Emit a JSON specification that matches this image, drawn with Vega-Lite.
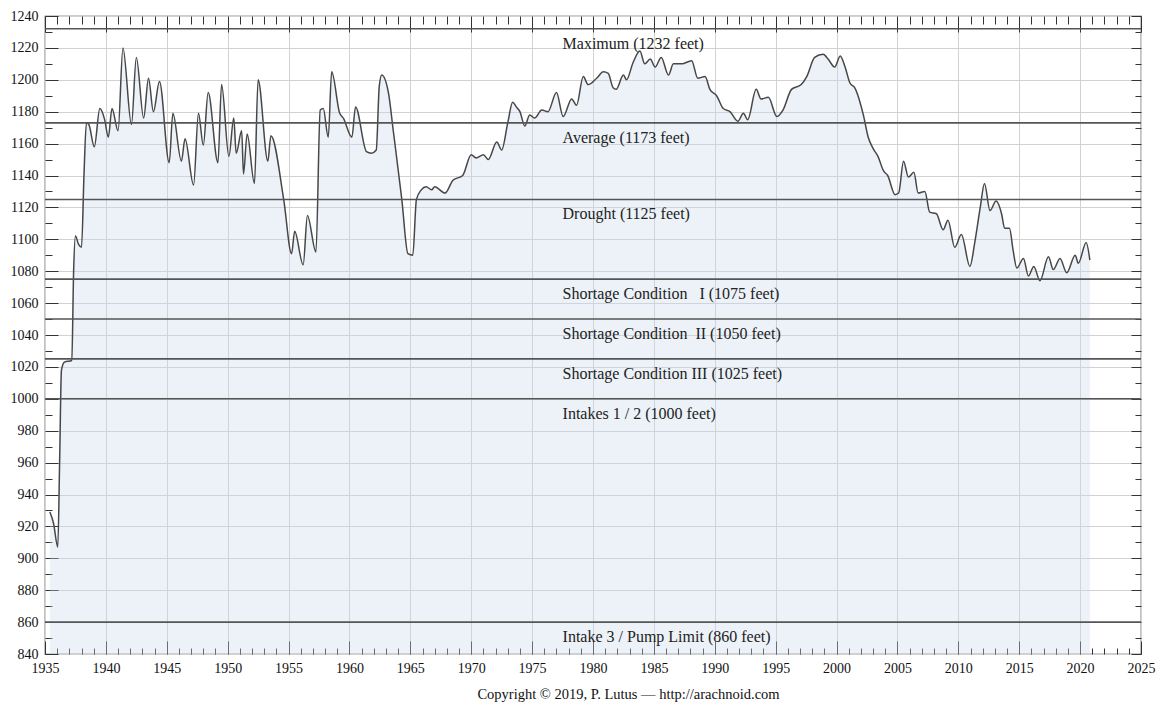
{
  "$schema": "https://vega.github.io/schema/vega-lite/v6.json",
  "width": 1096,
  "height": 638,
  "autosize": {"type": "none"},
  "padding": {"left": 45, "top": 16, "right": 18, "bottom": 54},
  "background": "white",
  "config": {
    "view": {"stroke": "#333333", "strokeWidth": 1.2},
    "font": "Liberation Serif",
    "axis": {"labelFont": "Liberation Serif", "titleFont": "Liberation Serif", "domain": false, "tickColor": "#333333", "tickWidth": 1, "labelColor": "#111111"}
  },
  "datasets": {
    "lake": [
      {"year": 1935.4, "level": 929}, {"year": 1935.7, "level": 922}, {"year": 1936.05, "level": 907},
      {"year": 1936.2, "level": 960}, {"year": 1936.35, "level": 1018}, {"year": 1936.6, "level": 1023},
      {"year": 1937.2, "level": 1024}, {"year": 1937.35, "level": 1080}, {"year": 1937.5, "level": 1102},
      {"year": 1937.75, "level": 1097}, {"year": 1938.0, "level": 1095}, {"year": 1938.2, "level": 1140},
      {"year": 1938.4, "level": 1173}, {"year": 1938.6, "level": 1172}, {"year": 1939.05, "level": 1158},
      {"year": 1939.5, "level": 1182}, {"year": 1939.9, "level": 1175}, {"year": 1940.2, "level": 1164},
      {"year": 1940.5, "level": 1182}, {"year": 1941.0, "level": 1168}, {"year": 1941.4, "level": 1220},
      {"year": 1942.1, "level": 1172}, {"year": 1942.5, "level": 1214}, {"year": 1943.1, "level": 1176},
      {"year": 1943.5, "level": 1201}, {"year": 1943.9, "level": 1180}, {"year": 1944.4, "level": 1199},
      {"year": 1945.2, "level": 1148}, {"year": 1945.5, "level": 1179}, {"year": 1946.2, "level": 1149},
      {"year": 1946.5, "level": 1163}, {"year": 1947.2, "level": 1134}, {"year": 1947.6, "level": 1179},
      {"year": 1948.0, "level": 1159}, {"year": 1948.4, "level": 1192}, {"year": 1949.2, "level": 1148},
      {"year": 1949.5, "level": 1197}, {"year": 1950.1, "level": 1152}, {"year": 1950.5, "level": 1176},
      {"year": 1950.7, "level": 1154}, {"year": 1951.15, "level": 1168}, {"year": 1951.3, "level": 1141},
      {"year": 1951.6, "level": 1166}, {"year": 1952.2, "level": 1135}, {"year": 1952.5, "level": 1200},
      {"year": 1953.3, "level": 1149}, {"year": 1953.55, "level": 1165}, {"year": 1954.6, "level": 1125},
      {"year": 1955.25, "level": 1091}, {"year": 1955.5, "level": 1105}, {"year": 1956.2, "level": 1084},
      {"year": 1956.55, "level": 1115}, {"year": 1957.25, "level": 1092}, {"year": 1957.6, "level": 1181},
      {"year": 1957.85, "level": 1182}, {"year": 1958.26, "level": 1164}, {"year": 1958.54, "level": 1205},
      {"year": 1959.2, "level": 1179}, {"year": 1959.5, "level": 1176}, {"year": 1960.2, "level": 1164},
      {"year": 1960.5, "level": 1183}, {"year": 1961.4, "level": 1155}, {"year": 1961.8, "level": 1154},
      {"year": 1962.2, "level": 1156}, {"year": 1962.45, "level": 1196}, {"year": 1962.65, "level": 1203},
      {"year": 1963.2, "level": 1192}, {"year": 1963.6, "level": 1168}, {"year": 1964.3, "level": 1125},
      {"year": 1964.8, "level": 1091}, {"year": 1965.2, "level": 1090}, {"year": 1965.5, "level": 1125},
      {"year": 1965.9, "level": 1131}, {"year": 1966.3, "level": 1133}, {"year": 1966.75, "level": 1131},
      {"year": 1967.0, "level": 1133}, {"year": 1967.85, "level": 1129}, {"year": 1968.5, "level": 1137},
      {"year": 1969.3, "level": 1140}, {"year": 1970.0, "level": 1153}, {"year": 1970.4, "level": 1151},
      {"year": 1971.0, "level": 1153}, {"year": 1971.4, "level": 1150}, {"year": 1972.1, "level": 1161},
      {"year": 1972.5, "level": 1156}, {"year": 1973.0, "level": 1173}, {"year": 1973.4, "level": 1186},
      {"year": 1973.7, "level": 1183}, {"year": 1974.0, "level": 1180}, {"year": 1974.4, "level": 1171},
      {"year": 1974.8, "level": 1178}, {"year": 1975.2, "level": 1176}, {"year": 1975.8, "level": 1181},
      {"year": 1976.3, "level": 1180}, {"year": 1977.0, "level": 1192}, {"year": 1977.55, "level": 1177},
      {"year": 1978.25, "level": 1188}, {"year": 1978.65, "level": 1184}, {"year": 1979.2, "level": 1202},
      {"year": 1979.6, "level": 1197}, {"year": 1980.3, "level": 1201}, {"year": 1980.85, "level": 1205},
      {"year": 1981.25, "level": 1204}, {"year": 1981.65, "level": 1195}, {"year": 1981.9, "level": 1194},
      {"year": 1982.5, "level": 1203}, {"year": 1982.75, "level": 1200}, {"year": 1983.3, "level": 1211},
      {"year": 1983.85, "level": 1218}, {"year": 1984.25, "level": 1210}, {"year": 1984.7, "level": 1213},
      {"year": 1985.1, "level": 1208}, {"year": 1985.6, "level": 1214}, {"year": 1986.2, "level": 1203},
      {"year": 1986.6, "level": 1210}, {"year": 1987.3, "level": 1210}, {"year": 1988.1, "level": 1212},
      {"year": 1988.6, "level": 1201}, {"year": 1989.2, "level": 1202}, {"year": 1989.6, "level": 1194},
      {"year": 1990.15, "level": 1190}, {"year": 1990.7, "level": 1182}, {"year": 1991.25, "level": 1180},
      {"year": 1991.9, "level": 1174}, {"year": 1992.35, "level": 1179}, {"year": 1992.7, "level": 1175},
      {"year": 1993.4, "level": 1194}, {"year": 1993.8, "level": 1188}, {"year": 1994.4, "level": 1189},
      {"year": 1995.1, "level": 1177}, {"year": 1995.6, "level": 1181}, {"year": 1996.3, "level": 1194},
      {"year": 1997.1, "level": 1197}, {"year": 1997.55, "level": 1202}, {"year": 1998.2, "level": 1214},
      {"year": 1998.9, "level": 1216}, {"year": 1999.3, "level": 1213}, {"year": 1999.85, "level": 1208},
      {"year": 2000.3, "level": 1215}, {"year": 2000.7, "level": 1208}, {"year": 2001.1, "level": 1198},
      {"year": 2001.5, "level": 1195}, {"year": 2002.2, "level": 1178}, {"year": 2002.6, "level": 1164},
      {"year": 2003.0, "level": 1157}, {"year": 2003.4, "level": 1152}, {"year": 2003.85, "level": 1143},
      {"year": 2004.2, "level": 1140}, {"year": 2004.8, "level": 1128}, {"year": 2005.1, "level": 1129},
      {"year": 2005.5, "level": 1149}, {"year": 2005.9, "level": 1139}, {"year": 2006.35, "level": 1142},
      {"year": 2006.7, "level": 1129}, {"year": 2007.25, "level": 1130}, {"year": 2007.65, "level": 1117},
      {"year": 2008.2, "level": 1116}, {"year": 2008.75, "level": 1106}, {"year": 2009.15, "level": 1112},
      {"year": 2009.7, "level": 1095}, {"year": 2010.25, "level": 1103}, {"year": 2010.95, "level": 1083},
      {"year": 2011.35, "level": 1098}, {"year": 2011.8, "level": 1120}, {"year": 2012.15, "level": 1135},
      {"year": 2012.6, "level": 1118}, {"year": 2013.1, "level": 1124}, {"year": 2013.55, "level": 1116},
      {"year": 2013.8, "level": 1107}, {"year": 2014.2, "level": 1107}, {"year": 2014.5, "level": 1093},
      {"year": 2014.8, "level": 1082}, {"year": 2015.35, "level": 1088}, {"year": 2015.75, "level": 1077},
      {"year": 2016.2, "level": 1083}, {"year": 2016.7, "level": 1074}, {"year": 2017.4, "level": 1089},
      {"year": 2017.8, "level": 1081}, {"year": 2018.35, "level": 1088}, {"year": 2018.9, "level": 1079},
      {"year": 2019.6, "level": 1090}, {"year": 2019.85, "level": 1085}, {"year": 2020.5, "level": 1098},
      {"year": 2020.8, "level": 1087}
    ],
    "refs": [
      {"level": 1232, "label": "Maximum (1232 feet)"},
      {"level": 1173, "label": "Average (1173 feet)"},
      {"level": 1125, "label": "Drought (1125 feet)"},
      {"level": 1075, "label": "Shortage Condition\u00a0\u00a0\u00a0I (1075 feet)"},
      {"level": 1050, "label": "Shortage Condition\u00a0\u00a0II (1050 feet)"},
      {"level": 1025, "label": "Shortage Condition III (1025 feet)"},
      {"level": 1000, "label": "Intakes 1 / 2 (1000 feet)"},
      {"level": 860, "label": "Intake 3 / Pump Limit (860 feet)"}
    ]
  },
  "layer": [
    {
      "data": {"name": "lake"},
      "mark": {"type": "area", "color": "#c9dbea", "opacity": 0.35, "interpolate": "monotone"},
      "encoding": {
        "x": {
          "field": "year", "type": "quantitative",
          "scale": {"domain": [1935, 2025], "nice": false, "zero": false},
          "axis": {
            "orient": "bottom",
            "values": [1935,1936,1937,1938,1939,1940,1941,1942,1943,1944,1945,1946,1947,1948,1949,1950,1951,1952,1953,1954,1955,1956,1957,1958,1959,1960,1961,1962,1963,1964,1965,1966,1967,1968,1969,1970,1971,1972,1973,1974,1975,1976,1977,1978,1979,1980,1981,1982,1983,1984,1985,1986,1987,1988,1989,1990,1991,1992,1993,1994,1995,1996,1997,1998,1999,2000,2001,2002,2003,2004,2005,2006,2007,2008,2009,2010,2011,2012,2013,2014,2015,2016,2017,2018,2019,2020,2021,2022,2023,2024,2025],
            "format": "d",
            "labelExpr": "datum.value % 5 === 0 ? datum.label : ''",
            "labelOverlap": false,
            "labelFlush": false,
            "labelFontSize": 14,
            "labelPadding": 20,
            "tickSize": {"condition": {"test": "datum.value % 5 === 0", "value": -13}, "value": -6},
            "grid": true,
            "gridColor": "#d2d2d2",
            "gridOpacity": {"condition": {"test": "datum.value % 5 === 0", "value": 1}, "value": 0},
            "title": "Copyright © 2019, P. Lutus — http://arachnoid.com",
            "titleFontSize": 14.5,
            "titleFontWeight": "normal",
            "titleColor": "#111111",
            "titlePadding": 5,
            "titleX": 583
          }
        },
        "y": {
          "field": "level", "type": "quantitative",
          "scale": {"domain": [840, 1240], "nice": false, "zero": false},
          "axis": {
            "orient": "left",
            "values": [840,850,860,870,880,890,900,910,920,930,940,950,960,970,980,990,1000,1010,1020,1030,1040,1050,1060,1070,1080,1090,1100,1110,1120,1130,1140,1150,1160,1170,1180,1190,1200,1210,1220,1230,1240],
            "format": "d",
            "labelExpr": "datum.value % 20 === 0 ? datum.label : ''",
            "labelOverlap": false,
            "labelFlush": false,
            "labelFontSize": 14,
            "labelPadding": 20,
            "tickSize": {"condition": {"test": "datum.value % 20 === 0", "value": -13}, "value": -7},
            "grid": true,
            "gridColor": "#d2d2d2",
            "gridOpacity": {"condition": {"test": "datum.value % 20 === 0", "value": 1}, "value": 0},
            "title": null
          }
        },
        "y2": {"datum": 840}
      }
    },
    {
      "data": {"name": "lake"},
      "mark": {"type": "line", "color": "#474747", "strokeWidth": 1.5, "interpolate": "monotone"},
      "encoding": {
        "x": {
          "field": "year", "type": "quantitative",
          "axis": {
            "orient": "top",
            "values": [1935,1936,1937,1938,1939,1940,1941,1942,1943,1944,1945,1946,1947,1948,1949,1950,1951,1952,1953,1954,1955,1956,1957,1958,1959,1960,1961,1962,1963,1964,1965,1966,1967,1968,1969,1970,1971,1972,1973,1974,1975,1976,1977,1978,1979,1980,1981,1982,1983,1984,1985,1986,1987,1988,1989,1990,1991,1992,1993,1994,1995,1996,1997,1998,1999,2000,2001,2002,2003,2004,2005,2006,2007,2008,2009,2010,2011,2012,2013,2014,2015,2016,2017,2018,2019,2020,2021,2022,2023,2024,2025],
            "labels": false,
            "grid": false,
            "tickSize": {"condition": {"test": "datum.value % 5 === 0", "value": -16}, "value": -8},
            "title": null
          }
        },
        "y": {"field": "level", "type": "quantitative", "axis": null}
      }
    },
    {
      "data": {"name": "refs"},
      "mark": {"type": "rule", "color": "#555555", "strokeWidth": 1.6},
      "encoding": {
        "y": {
          "field": "level", "type": "quantitative",
          "axis": {
            "orient": "right",
            "values": [840,850,860,870,880,890,900,910,920,930,940,950,960,970,980,990,1000,1010,1020,1030,1040,1050,1060,1070,1080,1090,1100,1110,1120,1130,1140,1150,1160,1170,1180,1190,1200,1210,1220,1230,1240],
            "labels": false,
            "grid": false,
            "tickSize": {"condition": {"test": "datum.value % 20 === 0", "value": -10}, "value": -6},
            "title": null
          }
        }
      }
    },
    {
      "data": {"name": "refs"},
      "mark": {"type": "text", "align": "left", "baseline": "middle", "dy": 15, "font": "Liberation Serif", "fontSize": 16, "color": "#222222"},
      "encoding": {
        "x": {"datum": 1977.5, "type": "quantitative", "axis": null},
        "y": {"field": "level", "type": "quantitative", "axis": null},
        "text": {"field": "label"}
      }
    }
  ],
  "resolve": {"axis": {"x": "independent", "y": "independent"}}
}
